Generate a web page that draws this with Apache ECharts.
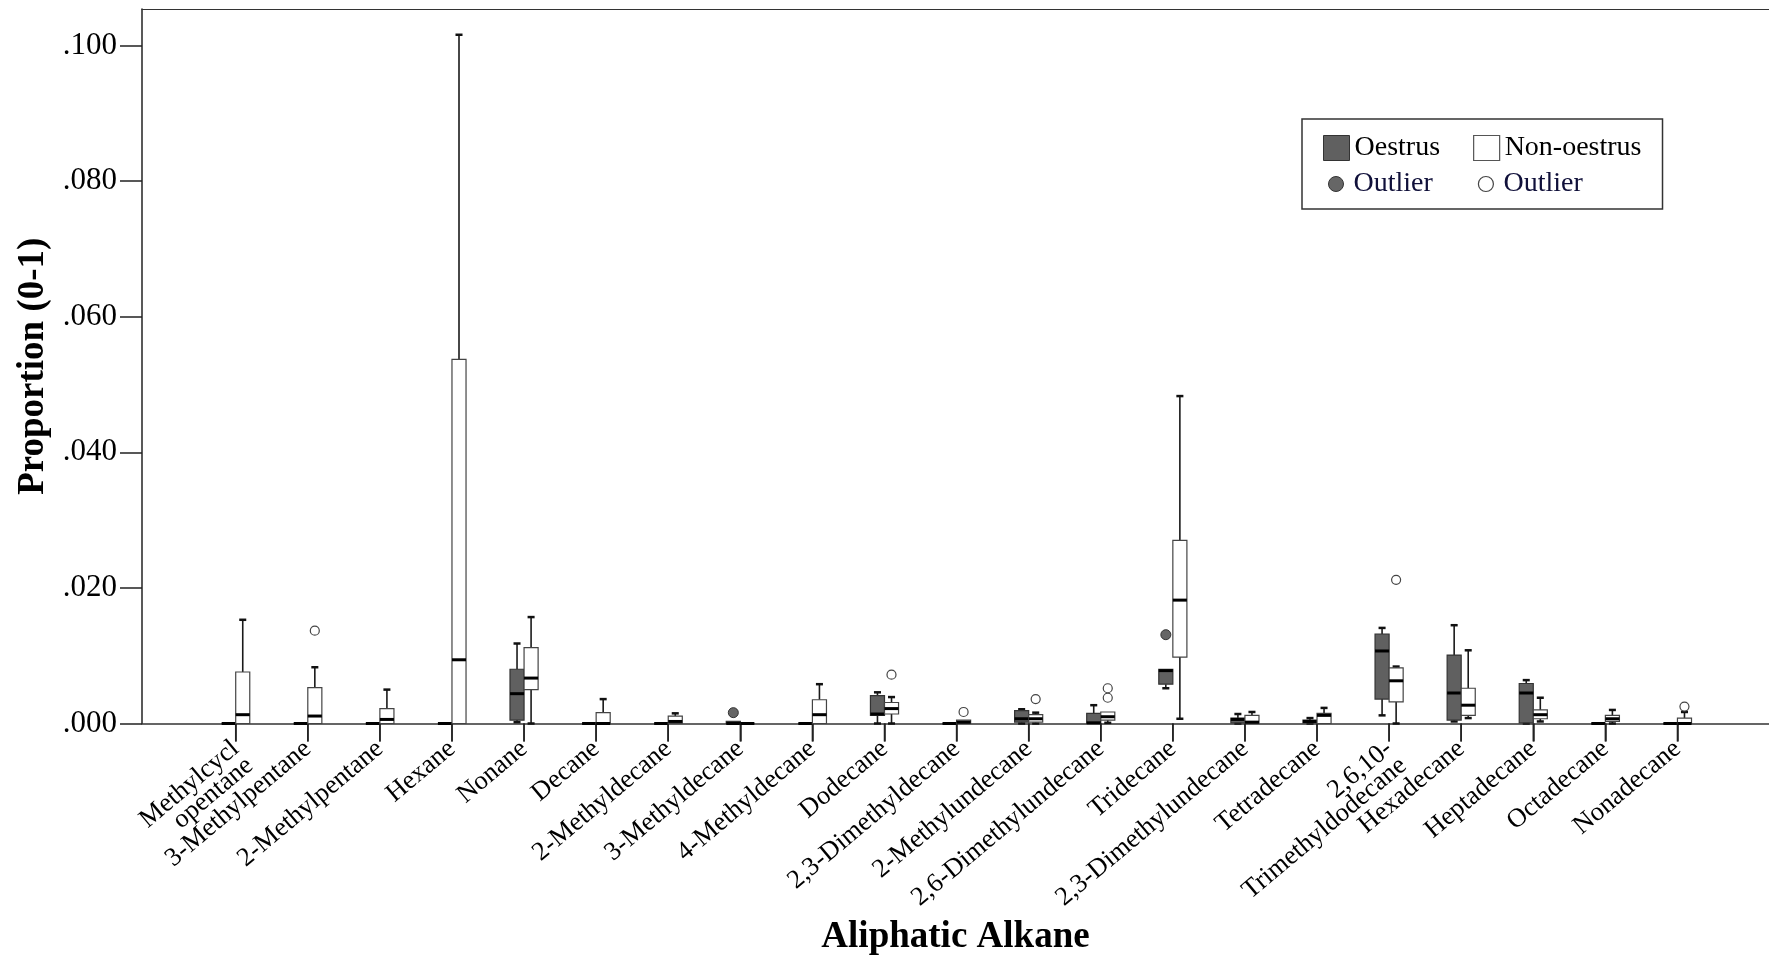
<!DOCTYPE html>
<html>
<head>
<meta charset="utf-8">
<script src="https://cdn.jsdelivr.net/npm/echarts@6/dist/echarts.min.js"></script>
<style>
html,body{margin:0;padding:0;background:#fff;}
#chart{width:1769px;height:958px;}
</style>
</head>
<body>
<div id="chart"></div>
<script>
// ---- data ----
const categories = ['Methylcycl\nopentane', '3-Methylpentane', '2-Methylpentane', 'Hexane', 'Nonane',
  'Decane', '2-Methyldecane', '3-Methyldecane', '4-Methyldecane', 'Dodecane',
  '2,3-Dimethyldecane', '2-Methylundecane', '2,6-Dimethylundecane', 'Tridecane',
  '2,3-Dimethylundecane', 'Tetradecane', '2,6,10-\nTrimethyldodecane', 'Hexadecane',
  'Heptadecane', 'Octadecane', 'Nonadecane'];

// [min, q1, median, q3, max]
const oestrusStats = [
  [0, 0, 0, 0, 0],
  [0, 0, 0, 0, 0],
  [0, 0, 0, 0, 0],
  [0, 0, 0, 0, 0],
  [0.0002, 0.0005, 0.0044, 0.0080, 0.0118],
  [0, 0, 0, 0, 0],
  [0, 0, 0, 0, 0],
  [0, 0, 0, 0.0003, 0.0003],
  [0, 0, 0, 0, 0],
  [0, 0.0012, 0.0014, 0.0041, 0.0046],
  [0, 0, 0, 0, 0],
  [0, 0.0002, 0.0007, 0.0019, 0.0021],
  [0, 0, 0.0001, 0.0015, 0.0027],
  [0.0052, 0.0058, 0.0078, 0.0080, 0.0080],
  [0, 0.0001, 0.0006, 0.0008, 0.0014],
  [0, 0.0001, 0.0003, 0.0005, 0.0008],
  [0.0012, 0.0036, 0.0107, 0.0132, 0.0141],
  [0.0003, 0.0005, 0.0045, 0.0101, 0.0145],
  [0, 0.0001, 0.0045, 0.0059, 0.0064],
  [0, 0, 0, 0, 0],
  [0, 0, 0, 0, 0]
];

const nonOestrusStats = [
  [0, 0, 0.0013, 0.0076, 0.0153],
  [0, 0, 0.0011, 0.0053, 0.0083],
  [0, 0, 0.0006, 0.0022, 0.0050],
  [0, 0, 0.0094, 0.0537, 0.1016],
  [0, 0.0050, 0.0067, 0.0112, 0.0157],
  [0, 0, 0, 0.0016, 0.0036],
  [0, 0, 0.0003, 0.0011, 0.0015],
  [0, 0, 0, 0, 0],
  [0, 0, 0.0013, 0.0035, 0.0058],
  [0, 0.0014, 0.0022, 0.0031, 0.0039],
  [0, 0, 0.0002, 0.0005, 0.0005],
  [0, 0.0002, 0.0007, 0.0013, 0.0016],
  [0.0001, 0.0005, 0.0010, 0.0017, 0.0017],
  [0.0007, 0.0098, 0.0182, 0.0270, 0.0483],
  [0, 0, 0.0002, 0.0012, 0.0017],
  [0, 0, 0.0012, 0.0015, 0.0023],
  [0, 0.0032, 0.0063, 0.0082, 0.0084],
  [0.0008, 0.0012, 0.0027, 0.0052, 0.0108],
  [0.0003, 0.0007, 0.0013, 0.0020, 0.0038],
  [0, 0.0003, 0.0007, 0.0012, 0.0020],
  [0, 0, 0, 0.0008, 0.0017]
];

// [category index, value]
const oestrusOutliers = [[7, 0.0016], [13, 0.0131]];
const nonOestrusOutliers = [[1, 0.0137], [9, 0.0072], [10, 0.0017], [11, 0.0036],
  [12, 0.0038], [12, 0.0052], [16, 0.0212], [20, 0.0025]];

const yTicks = [0, 0.02, 0.04, 0.06, 0.08, 0.10];

// ---- chart ----
const SERIF = 'Liberation Serif';
const X_MIN = -1.3, X_MAX = 21.27;
const TICK_LEN = 18;
const catIdx = categories.map((_, i) => i);
// empty labels at the axis ends keep ECharts' min/max-label overlap rule away from real labels
const labelValues = [X_MIN].concat(catIdx, [X_MAX]);

function makeRender(side, fill, stroke) {
  return function (params, api) {
    const i = api.value(0);
    const band = api.size([1, 0])[0];
    const w = band * 0.195;
    const base = api.coord([i, 0]);
    const c = base[0];
    const x0 = side < 0 ? c - w : c;
    const xm = x0 + w / 2;
    const yMin = api.coord([i, api.value(1)])[1];
    const yQ1 = api.coord([i, api.value(2)])[1];
    const yMed = api.coord([i, api.value(3)])[1];
    const yQ3 = api.coord([i, api.value(4)])[1];
    const yMax = api.coord([i, api.value(5)])[1];
    const cap = w * 0.5;
    const children = [];
    if (side > 0) {
      // category tick mark below the axis
      children.push({ type: 'line', shape: { x1: c, y1: base[1], x2: c, y2: base[1] + TICK_LEN }, style: { stroke: '#222', lineWidth: 1.5 } });
    }
    const wl = { stroke: '#1a1a1a', lineWidth: 1.6 };
    if (api.value(5) > api.value(4)) {
      children.push({ type: 'line', shape: { x1: xm, y1: yQ3, x2: xm, y2: yMax }, style: wl });
      children.push({ type: 'line', shape: { x1: xm - cap / 2, y1: yMax, x2: xm + cap / 2, y2: yMax }, style: { stroke: '#111', lineWidth: 2.5 } });
    }
    if (api.value(1) < api.value(2)) {
      children.push({ type: 'line', shape: { x1: xm, y1: yQ1, x2: xm, y2: yMin }, style: wl });
      children.push({ type: 'line', shape: { x1: xm - cap / 2, y1: yMin, x2: xm + cap / 2, y2: yMin }, style: { stroke: '#111', lineWidth: 2.5 } });
    }
    children.push({ type: 'rect', shape: { x: x0, y: yQ3, width: w, height: yQ1 - yQ3 }, style: { fill: fill, stroke: stroke, lineWidth: 1.2 } });
    children.push({ type: 'line', shape: { x1: x0, y1: yMed, x2: x0 + w, y2: yMed }, style: { stroke: '#000', lineWidth: 3 } });
    return { type: 'group', children: children };
  };
}

const chart = echarts.init(document.getElementById('chart'), null, { renderer: 'canvas' });
const option = {
  backgroundColor: '#ffffff',
  animation: false,
  grid: { left: 142, right: 0, top: 9, bottom: 234.5, containLabel: false, outerBoundsMode: 'none' },
  xAxis: [{
    type: 'value',
    min: X_MIN,
    max: X_MAX,
    position: 'bottom',
    splitLine: { show: false },
    axisLine: { show: true, onZero: false, lineStyle: { color: '#333', width: 1.6 } },
    axisTick: { show: true, inside: false, customValues: catIdx, length: TICK_LEN, lineStyle: { color: '#222', width: 1.5 } },
    axisLabel: {
      customValues: labelValues,
      hideOverlap: false,
      formatter: function (v) {
        const k = Math.round(v);
        if (Math.abs(v - k) > 1e-6 || k < 0 || k >= categories.length) return '';
        const s = categories[k];
        return s.indexOf('\n') >= 0 ? ' \n' + s : s;
      },
      rotate: 40, margin: 22, fontSize: 26.5, lineHeight: 22, fontFamily: SERIF, color: '#000'
    },
    name: 'Aliphatic Alkane',
    nameLocation: 'middle',
    nameGap: 195,
    nameTextStyle: { fontSize: 37, fontWeight: 'bold', fontFamily: SERIF, color: '#000' }
  }, {
    type: 'value',
    min: X_MIN,
    max: X_MAX,
    position: 'top',
    splitLine: { show: false },
    axisLine: { show: true, onZero: false, lineStyle: { color: '#333', width: 1.2 } },
    axisTick: { show: false },
    axisLabel: { show: false }
  }],
  yAxis: {
    type: 'value',
    min: 0,
    max: 0.1054,
    splitLine: { show: false },
    axisLine: { show: true, onZero: false, lineStyle: { color: '#222', width: 1.5 } },
    axisTick: { show: true, customValues: yTicks, length: 22, lineStyle: { color: '#222', width: 1.5 } },
    axisLabel: {
      customValues: yTicks,
      showMinLabel: true,
      hideOverlap: false,
      formatter: function (v) { return v.toFixed(3).replace(/^0/, ''); },
      margin: 25, fontSize: 31, fontFamily: SERIF, color: '#000'
    },
    name: 'Proportion (0-1)',
    nameLocation: 'middle',
    nameGap: 89,
    nameTextStyle: { fontSize: 37, fontWeight: 'bold', fontFamily: SERIF, color: '#000' }
  },
  legend: [{
    left: 1302, top: 119,
    orient: 'horizontal',
    padding: [15, 21, 47, 21],
    itemWidth: 26, itemHeight: 25, itemGap: 33,
    borderColor: '#333', borderWidth: 1.5,
    textStyle: { fontSize: 28, fontFamily: SERIF, color: '#000' },
    data: [
      { name: 'Oestrus', icon: 'rect', itemStyle: { color: '#606060', borderColor: '#333', borderWidth: 1 } },
      { name: 'Non-oestrus', icon: 'rect', itemStyle: { color: '#ffffff', borderColor: '#555', borderWidth: 1.2 } }
    ]
  }, {
    left: 1328, top: 170,
    orient: 'horizontal',
    padding: 0,
    itemWidth: 15, itemHeight: 15, itemGap: 45,
    textStyle: { fontSize: 28, fontFamily: SERIF, color: '#10103a', padding: [0, 0, 0, 5] },
    formatter: function () { return 'Outlier'; },
    data: [
      { name: 'Outlier (Oestrus)', icon: 'circle', itemStyle: { color: '#666', borderColor: '#333', borderWidth: 1 } },
      { name: 'Outlier (Non-oestrus)', icon: 'circle', itemStyle: { color: '#fff', borderColor: '#444', borderWidth: 1.2 } }
    ]
  }],
  series: [{
    name: 'Oestrus',
    type: 'custom',
    xAxisIndex: 0,
    clip: false,
    renderItem: makeRender(-1, '#606060', '#333'),
    encode: { x: 0, y: [1, 2, 3, 4, 5] },
    itemStyle: { color: '#606060' },
    data: oestrusStats.map((s, i) => [i].concat(s)),
    z: 3
  }, {
    name: 'Non-oestrus',
    type: 'custom',
    xAxisIndex: 0,
    clip: false,
    renderItem: makeRender(1, '#ffffff', '#444'),
    encode: { x: 0, y: [1, 2, 3, 4, 5] },
    itemStyle: { color: '#ffffff' },
    data: nonOestrusStats.map((s, i) => [i].concat(s)),
    z: 3
  }, {
    name: 'Outlier (Oestrus)',
    type: 'scatter',
    xAxisIndex: 0,
    symbol: 'circle',
    symbolSize: 10,
    symbolOffset: [-7, 0],
    itemStyle: { color: '#666', borderColor: '#333', borderWidth: 1, opacity: 1 },
    data: oestrusOutliers,
    z: 4
  }, {
    name: 'Outlier (Non-oestrus)',
    type: 'scatter',
    xAxisIndex: 0,
    symbol: 'circle',
    symbolSize: 9,
    symbolOffset: [7, 0],
    itemStyle: { color: '#fff', borderColor: '#444', borderWidth: 1.2, opacity: 1 },
    data: nonOestrusOutliers,
    z: 4
  }]
};
chart.setOption(option);
</script>
</body>
</html>
